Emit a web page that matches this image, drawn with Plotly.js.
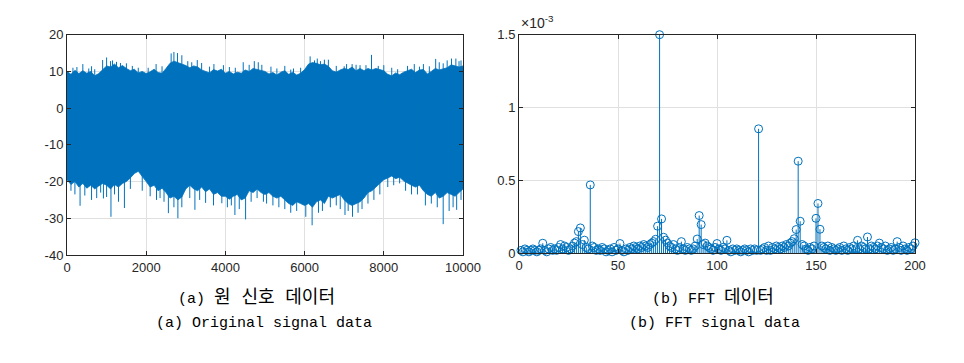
<!DOCTYPE html>
<html>
<head>
<meta charset="utf-8">
<script src="https://cdn.plot.ly/plotly-3.0.1.min.js"></script>
<style>
  html, body { margin: 0; padding: 0; background: #ffffff; }
  #chart { width: 964px; height: 363px; }
</style>
</head>
<body>
<div id="chart"></div>
<script>
// ---------- (a) Original signal: envelope (every 100 samples) ----------
const signalUpper = [
  10.0, 9.2, 10.3, 9.4, 10.2, 9.5, 10.0, 8.8, 9.4, 10.5,
  11.5, 11.2, 12.0, 11.0, 11.6, 10.8, 10.2, 10.6, 9.6, 10.0,
  9.4, 9.9, 10.6, 9.7, 9.5, 10.8, 12.2, 12.8, 12.5, 12.0,
  11.6, 11.0, 11.5, 11.2, 10.4, 10.0, 9.6, 10.5, 10.1, 10.6,
  9.5, 10.0, 9.3, 9.8, 9.5, 10.4, 10.0, 10.8, 10.5, 10.2,
  10.0, 9.3, 9.7, 9.0, 9.8, 10.2, 9.2, 9.8, 9.0, 9.5,
  10.5, 12.0, 12.4, 12.2, 11.8, 12.0, 11.4, 10.2, 9.8, 10.4,
  10.8, 10.5, 11.2, 10.2, 10.8, 10.2, 10.8, 10.4, 10.8, 10.5,
  10.2, 9.2, 8.8, 9.6, 9.1, 9.8, 10.3, 10.6, 9.7, 10.4,
  10.5, 9.3, 10.0, 10.8, 10.4, 10.6, 11.0, 11.8, 11.6, 11.2,
  11.5
];
const signalLower = [
  -19.5, -20.8, -20.0, -21.5, -20.5, -21.8, -21.0, -22.0, -21.2, -20.5,
  -21.0, -22.0, -20.8, -21.5, -20.5, -20.0, -19.0, -17.8, -17.2, -18.5,
  -20.0, -21.5, -21.0, -22.5, -21.8, -23.0, -24.5, -24.0, -25.0, -24.2,
  -22.0, -21.0, -22.0, -22.5, -21.5, -22.8, -22.0, -23.5, -23.0, -24.0,
  -24.0, -24.8, -24.0, -23.5, -25.0, -24.5, -22.5, -23.0, -22.0, -23.0,
  -23.5, -23.0, -24.0, -24.5, -24.0, -25.0, -26.0, -26.5, -25.5, -26.0,
  -26.5, -26.0, -27.0, -25.5, -25.0, -26.0, -24.0, -24.5, -24.0, -23.5,
  -25.0, -26.0, -26.5, -26.0, -25.5, -24.5, -23.0, -22.5, -21.5, -20.5,
  -19.5, -19.0, -18.5, -19.2, -18.8, -19.8, -20.5, -21.0, -21.5, -21.0,
  -22.5, -23.5, -24.0, -23.0, -24.5, -24.0, -23.0, -23.5, -24.0, -23.0,
  -22.0
];
// spikes poking out of the band
const upSpikeX = [150, 250, 400, 550, 620, 700, 900, 1000, 1100, 1150, 1250, 1350, 1500, 1650, 1800,
  2050, 2250, 2400, 2630, 2700, 2790, 2900, 3050, 3150, 3290, 3400, 3600, 3710, 3950,
  4100, 4250, 4450, 4600, 4730, 4830, 4920, 5150, 5300, 5500, 5650, 5720, 5900,
  6140, 6250, 6320, 6400, 6500, 6600, 6800, 7000, 7060, 7200, 7300, 7400, 7550, 7690, 7860,
  8000, 8200, 8350, 8600, 8770, 8900, 9000, 9150, 9310, 9400, 9500, 9600, 9710, 9820, 9900, 9950];
const upSpikeY = [11.0, 11.2, 12.0, 10.8, 11.4, 10.6, 13.1, 13.8, 12.8, 13.0, 12.6, 12.3, 12.2, 11.5, 11.0,
  11.0, 12.0, 11.4, 14.9, 15.3, 15.0, 14.4, 12.8, 12.5, 13.1, 12.3, 11.3, 12.0, 11.7,
  11.2, 11.0, 12.5, 11.8, 12.8, 12.5, 11.8, 11.3, 10.8, 11.5, 10.5, 10.8, 11.0,
  14.1, 13.0, 13.5, 12.8, 13.2, 13.2, 11.5, 11.4, 12.0, 12.0, 11.8, 11.7, 11.7, 14.5, 11.5,
  11.7, 11.0, 10.6, 11.5, 12.0, 11.3, 12.0, 11.4, 13.4, 12.5, 12.2, 13.0, 13.5, 13.5, 12.8, 13.0];
const downSpikeX = [100, 200, 330, 450, 620, 750, 850, 920, 1000, 1110, 1200, 1300, 1450, 1600, 1900,
  2100, 2260, 2350, 2450, 2560, 2700, 2800, 2900, 3100, 3230, 3350, 3500, 3700, 3910,
  4050, 4150, 4240, 4350, 4510, 4650, 4800, 4960, 5040, 5200, 5350, 5500, 5650, 5800,
  6030, 6190, 6350, 6450, 6650, 6800, 6900, 7020, 7100, 7210, 7350, 7450, 7600, 7750, 7900,
  8100, 8250, 8400, 8550, 8700, 8850, 9050, 9200, 9350, 9500, 9650, 9750, 9840, 9950];
const downSpikeY = [-22.5, -23.5, -26.6, -23.8, -25.0, -24.5, -23.0, -24.6, -24.2, -29.6, -23.5, -25.5, -27.2, -22.0, -22.5,
  -24.0, -25.0, -24.5, -25.5, -28.6, -27.0, -30.0, -27.0, -24.5, -27.7, -25.0, -25.8, -26.5, -25.9,
  -27.0, -26.5, -29.1, -27.5, -30.3, -25.5, -24.5, -25.5, -26.0, -26.5, -27.0, -27.5, -28.5, -28.0,
  -29.6, -31.9, -28.5, -28.0, -27.0, -26.5, -27.5, -29.1, -28.0, -29.6, -28.5, -27.5, -26.0, -25.0, -23.5,
  -21.5, -21.0, -20.5, -22.5, -23.5, -23.5, -26.5, -26.0, -27.0, -31.6, -28.0, -27.0, -27.7, -25.0];

// ---------- (b) FFT magnitude (units of 1e-3), bins 1..200 ----------
const fftMag = [
  0.02, 0.01, 0.03, 0.02, 0.01, 0.02, 0.03, 0.02, 0.01, 0.02,
  0.03, 0.069, 0.02, 0.01, 0.03, 0.04, 0.02, 0.03, 0.02, 0.04,
  0.06, 0.03, 0.05, 0.04, 0.02, 0.03, 0.05, 0.07, 0.08, 0.149,
  0.174, 0.06, 0.09, 0.04, 0.03, 0.469, 0.05, 0.04, 0.02, 0.03,
  0.02, 0.04, 0.03, 0.01, 0.02, 0.03, 0.01, 0.04, 0.02, 0.03,
  0.067, 0.02, 0.01, 0.03, 0.02, 0.04, 0.03, 0.05, 0.04, 0.03,
  0.05, 0.04, 0.06, 0.05, 0.04, 0.06, 0.07, 0.08, 0.096, 0.186,
  1.5, 0.236, 0.11, 0.09, 0.07, 0.05, 0.04, 0.06, 0.03, 0.02,
  0.04, 0.08, 0.03, 0.02, 0.04, 0.03, 0.02, 0.03, 0.05, 0.098,
  0.259, 0.197, 0.06, 0.07, 0.05, 0.04, 0.03, 0.02, 0.04, 0.067,
  0.03, 0.02, 0.04, 0.03, 0.089, 0.02, 0.01, 0.03, 0.02, 0.03,
  0.02, 0.01, 0.02, 0.03, 0.02, 0.01, 0.03, 0.02, 0.03, 0.02,
  0.854, 0.02, 0.03, 0.04, 0.02, 0.05, 0.02, 0.04, 0.03, 0.05,
  0.04, 0.03, 0.05, 0.04, 0.06, 0.05, 0.07, 0.08, 0.10, 0.163,
  0.632, 0.22, 0.06, 0.05, 0.03, 0.02, 0.04, 0.03, 0.05, 0.24,
  0.342, 0.165, 0.05, 0.04, 0.03, 0.05, 0.02, 0.04, 0.03, 0.02,
  0.03, 0.04, 0.02, 0.05, 0.03, 0.02, 0.04, 0.03, 0.05, 0.03,
  0.089, 0.03, 0.05, 0.04, 0.03, 0.112, 0.03, 0.05, 0.04, 0.03,
  0.05, 0.07, 0.04, 0.03, 0.05, 0.02, 0.03, 0.04, 0.02, 0.03,
  0.08, 0.04, 0.02, 0.05, 0.03, 0.02, 0.04, 0.03, 0.05, 0.072
];

// ---------- tick labels and captions ----------
const sigXTicks = [0, 2000, 4000, 6000, 8000, 10000];
const sigXLabels = ['0', '2000', '4000', '6000', '8000', '10000'];
const sigYTicks = [-40, -30, -20, -10, 0, 10, 20];
const sigYLabels = ['-40', '-30', '-20', '-10', '0', '10', '20'];
const fftXTicks = [0, 50, 100, 150, 200];
const fftYTicks = [0, 0.5, 1, 1.5];
const fftYLabels = ['0', '0.5', '1', '1.5'];
const captionPrefix = ['(a) ', '(b) FFT '];
const captionKorean = ['원 신호 데이터', '데이터'];
const captionsBottom = ['(a) Original signal data', '(b) FFT signal data'];

const BLUE = '#0072BD';
const sampleX = signalUpper.map((_, i) => i * 100);
const fftX = fftMag.map((_, i) => i + 1);

function spikeLines(xs, ys) {
  const X = [], Y = [];
  xs.forEach((x, i) => { X.push(x, x, null); Y.push(0, ys[i], null); });
  return { X, Y };
}
const up = spikeLines(upSpikeX, upSpikeY);
const dn = spikeLines(downSpikeX, downSpikeY);

const traces = [
  { x: sampleX, y: signalLower, type: 'scatter', mode: 'lines', xaxis: 'x', yaxis: 'y',
    line: { color: BLUE, width: 0.8 }, hoverinfo: 'skip' },
  { x: sampleX, y: signalUpper, type: 'scatter', mode: 'lines', xaxis: 'x', yaxis: 'y',
    fill: 'tonexty', fillcolor: BLUE, line: { color: BLUE, width: 0.8 }, hoverinfo: 'skip' },
  { x: up.X, y: up.Y, type: 'scatter', mode: 'lines', xaxis: 'x', yaxis: 'y',
    line: { color: BLUE, width: 1 }, connectgaps: false, hoverinfo: 'skip' },
  { x: dn.X, y: dn.Y, type: 'scatter', mode: 'lines', xaxis: 'x', yaxis: 'y',
    line: { color: BLUE, width: 1 }, connectgaps: false, hoverinfo: 'skip' },
  { x: fftX, y: fftMag, type: 'scatter', mode: 'markers', xaxis: 'x2', yaxis: 'y2',
    cliponaxis: false,
    marker: { symbol: 'circle-open', size: 8, color: BLUE, line: { color: BLUE, width: 1 } },
    error_y: { type: 'data', symmetric: false, array: fftMag.map(() => 0), arrayminus: fftMag,
      width: 0, thickness: 1, color: BLUE } }
];

const tickFont = { family: 'Liberation Sans, Arial, sans-serif', size: 13, color: '#262626' };
const axisCommon = {
  showline: true, mirror: 'ticks', linecolor: '#262626', linewidth: 1,
  ticks: 'inside', ticklen: 4, tickcolor: '#262626', tickwidth: 1,
  showgrid: true, gridcolor: '#e0e0e0', gridwidth: 1, zeroline: false,
  tickfont: tickFont, fixedrange: true
};
const H = 363, W = 964;
const capFont = { family: 'Liberation Mono, Noto Sans CJK KR, monospace', size: 15, color: '#000000' };
const kor = s => '<span style="font-size:18px">' + s + '</span>';

const layout = {
  width: W, height: H,
  margin: { l: 0, r: 0, t: 0, b: 0 },
  paper_bgcolor: '#ffffff', plot_bgcolor: '#ffffff',
  showlegend: false,
  xaxis: Object.assign({}, axisCommon, { domain: [67 / W, 463 / W], range: [0, 10000],
    tickvals: sigXTicks, ticktext: sigXLabels, anchor: 'y' }),
  yaxis: Object.assign({}, axisCommon, { domain: [1 - 255 / H, 1 - 34.7 / H], range: [-40, 20],
    tickvals: sigYTicks, ticktext: sigYLabels, anchor: 'x' }),
  xaxis2: Object.assign({}, axisCommon, { domain: [519 / W, 915 / W], range: [0, 200],
    tickvals: fftXTicks, anchor: 'y2' }),
  yaxis2: Object.assign({}, axisCommon, { domain: [1 - 253.3 / H, 1 - 34.7 / H], range: [0, 1.5],
    tickvals: fftYTicks, ticktext: fftYLabels, anchor: 'x2' }),
  annotations: [
    { xref: 'paper', yref: 'paper', x: 519 / W, y: 1 - 33 / H, xanchor: 'left', yanchor: 'bottom',
      text: '×10<sup>-3</sup>', showarrow: false,
      font: { family: tickFont.family, size: 14, color: '#262626' } },
    { xref: 'paper', yref: 'paper', x: 256 / W, y: 1 - 297 / H, xanchor: 'center', yanchor: 'middle',
      text: captionPrefix[0] + kor(captionKorean[0]), showarrow: false, font: capFont },
    { xref: 'paper', yref: 'paper', x: 264 / W, y: 1 - 323 / H, xanchor: 'center', yanchor: 'middle',
      text: captionsBottom[0], showarrow: false, font: capFont },
    { xref: 'paper', yref: 'paper', x: 713 / W, y: 1 - 297 / H, xanchor: 'center', yanchor: 'middle',
      text: captionPrefix[1] + kor(captionKorean[1]), showarrow: false, font: capFont },
    { xref: 'paper', yref: 'paper', x: 714 / W, y: 1 - 323 / H, xanchor: 'center', yanchor: 'middle',
      text: captionsBottom[1], showarrow: false, font: capFont }
  ]
};

Plotly.newPlot('chart', traces, layout, { staticPlot: true, displayModeBar: false });
</script>
</body>
</html>
